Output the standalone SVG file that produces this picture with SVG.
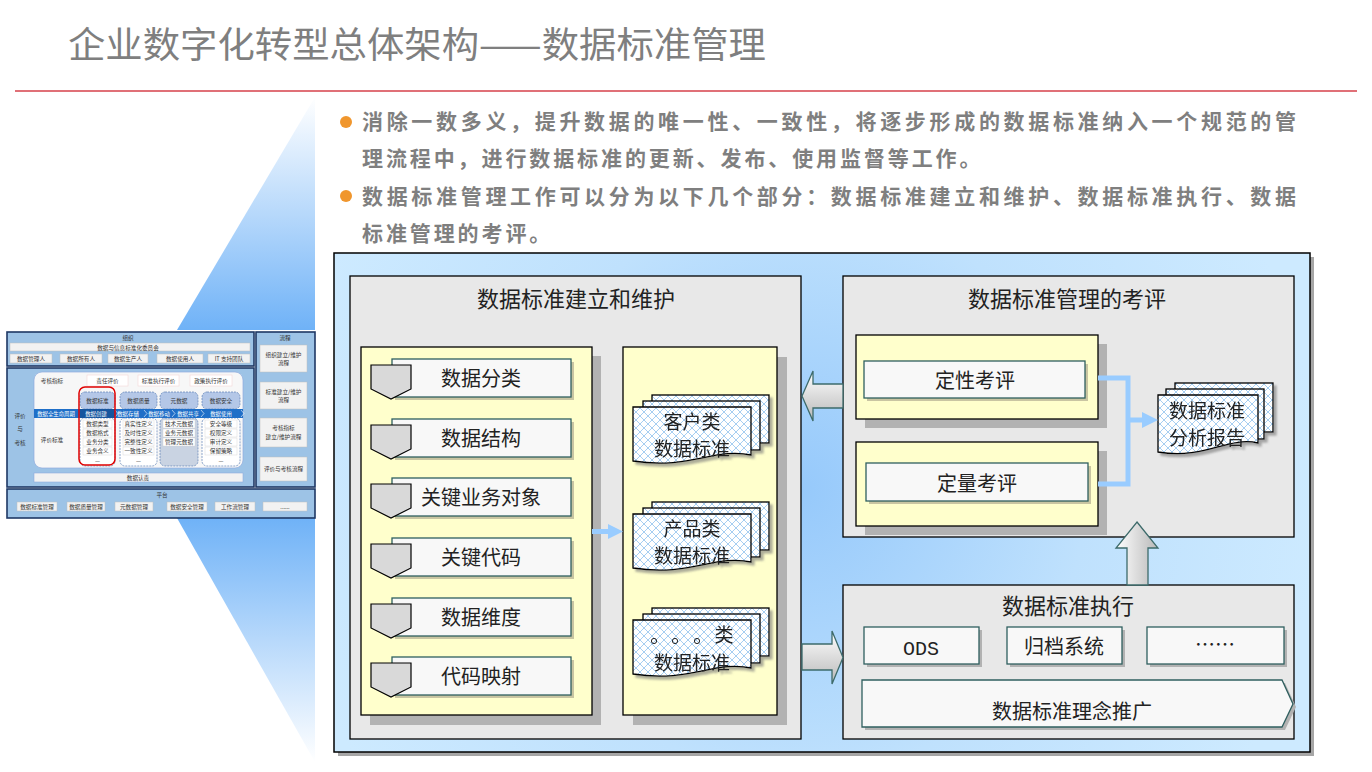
<svg xmlns="http://www.w3.org/2000/svg" width="1372" height="772" viewBox="0 0 1372 772">
<defs>
<style>
.f{font-family:"Noto Sans CJK SC","Liberation Sans",sans-serif}
.ttl{font-size:22px;fill:#222;text-anchor:middle}
.it{font-size:20px;fill:#222;text-anchor:middle}
.dt{font-size:19px;fill:#222;text-anchor:middle}
.bul{font-size:21px;font-weight:bold;fill:#7f7f7f}
.s{font-family:"Noto Sans CJK SC",sans-serif;font-size:5.6px;fill:#333;text-anchor:middle}
.sw{font-family:"Noto Sans CJK SC",sans-serif;font-size:5.4px;fill:#fff;text-anchor:middle}
.gp{fill:#e8e8e8;stroke:#000;stroke-width:1.3}
.yp{fill:#ffffcc;stroke:#000;stroke-width:1.3}
.sh{fill:#b2b2b2}
.ks{fill:#c9c5a2}
.wb{fill:#f8f8f8;stroke:#2f5f5f;stroke-width:1.3}
.pent{fill:#d9d9d9;stroke:#000;stroke-width:1.2}
.doc{fill:url(#lat);stroke:#000;stroke-width:1.3}
.arr3{fill:url(#ag);stroke:#3d6b6b;stroke-width:1.3}
.blk{fill:#9dc3e6;stroke:#1f3864;stroke-width:1.6}
.tb{fill:#f2f2f2;stroke:#bfbfbf;stroke-width:0.5}
.col{fill:#b4c7e7;stroke:#5b7fb5;stroke-width:0.7;stroke-dasharray:2 1}
.lst{fill:#fff;stroke:#5b7fb5;stroke-width:0.7;stroke-dasharray:2 1}
.row{fill:#fff;stroke:#d0d0d0;stroke-width:0.4}
</style>
<linearGradient id="triTop" x1="0" y1="0" x2="0" y2="1">
<stop offset="0" stop-color="#ffffff"/><stop offset="1" stop-color="#6fb2f7"/>
</linearGradient>
<linearGradient id="triBot" x1="0" y1="0" x2="0" y2="1">
<stop offset="0" stop-color="#6fb2f7"/><stop offset="1" stop-color="#ffffff"/>
</linearGradient>
<radialGradient id="bg" cx="800" cy="490" r="520" gradientUnits="userSpaceOnUse">
<stop offset="0" stop-color="#96c9fb"/><stop offset="0.55" stop-color="#bfe1fd"/><stop offset="1" stop-color="#cdeaff"/>
</radialGradient>
<linearGradient id="ag" x1="0" y1="0" x2="0" y2="1">
<stop offset="0" stop-color="#ffffff"/><stop offset="1" stop-color="#b8b8b8"/>
</linearGradient>
<linearGradient id="agv" x1="0" y1="0" x2="1" y2="0">
<stop offset="0" stop-color="#ffffff"/><stop offset="1" stop-color="#b8b8b8"/>
</linearGradient>
<pattern id="lat" width="8" height="8" patternUnits="userSpaceOnUse">
<rect width="8" height="8" fill="#ffffff"/>
<path d="M0,0 L8,8 M8,0 L0,8" stroke="#9cc8ef" stroke-width="0.9"/>
</pattern>
<filter id="ds" x="-10%" y="-10%" width="130%" height="140%">
<feDropShadow dx="3" dy="3" stdDeviation="1.2" flood-color="#777" flood-opacity="0.6"/>
</filter>
</defs>

<rect width="1372" height="772" fill="#ffffff"/>

<g id="title">
<text class="f" x="68" y="58" font-size="36" fill="#7f7f7f" textLength="698" lengthAdjust="spacingAndGlyphs">企业数字化转型总体架构——数据标准管理</text>
<line x1="15" y1="91" x2="1357" y2="91" stroke="#e07077" stroke-width="2"/>
</g>

<g id="fan">
<polygon points="315,97 315,330 177,330" fill="url(#triTop)"/>
<polygon points="177,518 315,518 315,762" fill="url(#triBot)"/>
</g>

<g id="bullets">
<circle cx="346" cy="122" r="6" fill="#f0962d"/>
<circle cx="346" cy="196" r="6" fill="#f0962d"/>
<text class="f bul" x="362" y="129" textLength="934" lengthAdjust="spacing">消除一数多义，提升数据的唯一性、一致性，将逐步形成的数据标准纳入一个规范的管</text>
<text class="f bul" x="362" y="166" letter-spacing="2.9">理流程中，进行数据标准的更新、发布、使用监督等工作。</text>
<text class="f bul" x="362" y="204" textLength="934" lengthAdjust="spacing">数据标准管理工作可以分为以下几个部分：数据标准建立和维护、数据标准执行、数据</text>
<text class="f bul" x="362" y="241" letter-spacing="2.9">标准管理的考评。</text>
</g>

<g id="thumbnail">
<rect x="7" y="332" width="308" height="186" fill="#ffffff"/>
<rect class="blk" x="7" y="332" width="247" height="34"/>
<rect class="blk" x="7" y="368" width="247" height="119"/>
<rect class="blk" x="256" y="332" width="59" height="155"/>
<rect class="blk" x="7" y="489" width="308" height="29"/>
<text class="s" x="128" y="340">组织</text>
<rect class="tb" x="10" y="343" width="240" height="8"/>
<text class="s" x="128" y="349.5">数据与信息标准化委员会</text>
<rect class="tb" x="10" y="354" width="42" height="9"/><text class="s" x="31" y="360.7">数据管理人</text>
<rect class="tb" x="60" y="354" width="42" height="9"/><text class="s" x="81" y="360.7">数据所有人</text>
<rect class="tb" x="108" y="354" width="40" height="9"/><text class="s" x="128" y="360.7">数据生产人</text>
<rect class="tb" x="157" y="354" width="46" height="9"/><text class="s" x="180" y="360.7">数据使用人</text>
<rect class="tb" x="208" y="354" width="42" height="9"/><text class="s" x="229" y="360.7">IT 支持团队</text>
<text class="s" x="20" y="418" font-size="6.4">评价</text>
<text class="s" x="20" y="431" font-size="6.4">与</text>
<text class="s" x="20" y="445" font-size="6.4">考核</text>
<rect x="34" y="372" width="209" height="96" rx="8" fill="#f7f7f7" stroke="#8faadc" stroke-width="0.7"/>
<text class="s" x="52" y="383">考核指标</text>
<rect x="87" y="375" width="41" height="11" fill="#fff" stroke="#f2d0d0" stroke-width="0.5"/><text class="s" x="107.5" y="382.8">责任评价</text>
<rect x="138" y="375" width="41" height="11" fill="#fff" stroke="#f2d0d0" stroke-width="0.5"/><text class="s" x="158.5" y="382.8">标准执行评价</text>
<rect x="190" y="375" width="42" height="11" fill="#fff" stroke="#f2d0d0" stroke-width="0.5"/><text class="s" x="211" y="382.8">政策执行评价</text>
<rect class="col" x="80" y="392" width="35" height="17" rx="5"/><text class="s" x="97.5" y="403">数据标准</text>
<rect class="col" x="120" y="392" width="37" height="17" rx="5"/><text class="s" x="138.5" y="403">数据质量</text>
<rect class="col" x="160" y="392" width="38" height="17" rx="5"/><text class="s" x="179" y="403">元数据</text>
<rect class="col" x="202" y="392" width="38" height="17" rx="5"/><text class="s" x="221" y="403">数据安全</text>
<rect class="lst" x="80" y="418" width="35" height="48" rx="5"/>
<rect class="lst" x="120" y="418" width="37" height="48" rx="5"/>
<rect x="160" y="418" width="38" height="48" rx="5" fill="#c9d3e2" stroke="#5b7fb5" stroke-width="0.7" stroke-dasharray="2 1"/>
<rect class="lst" x="202" y="418" width="38" height="48" rx="5"/>
<g>
<rect class="row" x="83" y="420" width="29" height="8"/><text class="s" x="97.5" y="425.8">数据类型</text>
<rect class="row" x="83" y="429" width="29" height="8"/><text class="s" x="97.5" y="435">数据格式</text>
<rect class="row" x="83" y="438" width="29" height="8"/><text class="s" x="97.5" y="444.3">业务分类</text>
<rect class="row" x="83" y="447" width="29" height="8"/><text class="s" x="97.5" y="453.3">业务含义</text>
<text class="s" x="97.5" y="463">—</text>
<rect class="row" x="123" y="420" width="31" height="8"/><text class="s" x="138.5" y="425.8">真实性定义</text>
<rect class="row" x="123" y="429" width="31" height="8"/><text class="s" x="138.5" y="435">及时性定义</text>
<rect class="row" x="123" y="438" width="31" height="8"/><text class="s" x="138.5" y="444.3">完整性定义</text>
<rect class="row" x="123" y="447" width="31" height="8"/><text class="s" x="138.5" y="453.3">一致性定义</text>
<text class="s" x="138.5" y="463">—</text>
<rect class="row" x="163" y="420" width="32" height="8"/><text class="s" x="179" y="425.8">技术元数据</text>
<rect class="row" x="163" y="429" width="32" height="8"/><text class="s" x="179" y="435">业务元数据</text>
<rect class="row" x="163" y="438" width="32" height="8"/><text class="s" x="179" y="444.3">管理元数据</text>
<rect class="row" x="205" y="420" width="32" height="8"/><text class="s" x="221" y="425.8">安全等级</text>
<rect class="row" x="205" y="429" width="32" height="8"/><text class="s" x="221" y="435">权限定义</text>
<rect class="row" x="205" y="438" width="32" height="8"/><text class="s" x="221" y="444.3">审计定义</text>
<rect class="row" x="205" y="447" width="32" height="8"/><text class="s" x="221" y="453.3">保留策略</text>
<text class="s" x="221" y="463">—</text>
</g>
<rect x="34" y="409" width="209" height="9" fill="#1f6fc8"/>
<rect x="80" y="409" width="35" height="9" fill="#15559e"/>
<text class="sw" x="56" y="415.8">数据全生命周期</text>
<text class="sw" x="96" y="415.8">数据创建</text>
<text class="sw" x="128" y="415.8">数据存储</text>
<text class="sw" x="159" y="415.8">数据移动</text>
<text class="sw" x="188" y="415.8">数据共享</text>
<text class="sw" x="221" y="415.8">数据使用</text>
<path d="M115,410 L118,413.5 L115,417 M144,410 L147,413.5 L144,417 M172,410 L175,413.5 L172,417 M201,410 L204,413.5 L201,417 M241,410 L244,413.5 L241,417" fill="none" stroke="#fff" stroke-width="0.6"/>
<rect x="79" y="387" width="36" height="78" rx="6" fill="none" stroke="#e00000" stroke-width="1.5"/>
<text class="s" x="52" y="442">评价标准</text>
<rect x="34" y="473" width="209" height="9" fill="#f2f2f2" stroke="#8faadc" stroke-width="0.6"/>
<text class="s" x="138" y="479.8">数据认责</text>
<text class="s" x="285" y="340" font-size="6">流程</text>
<rect class="tb" x="260" y="345" width="47" height="27"/><text class="s" x="283.5" y="357">组织建立/维护</text><text class="s" x="283.5" y="365">流程</text>
<rect class="tb" x="260" y="382" width="47" height="27"/><text class="s" x="283.5" y="394">标准建立/维护</text><text class="s" x="283.5" y="402">流程</text>
<rect class="tb" x="260" y="418" width="47" height="29"/><text class="s" x="283.5" y="430">考核指标</text><text class="s" x="283.5" y="439">建立/维护流程</text>
<rect class="tb" x="260" y="457" width="47" height="24"/><text class="s" x="283.5" y="471">评价与考核流程</text>
<text class="s" x="162" y="496.5" font-size="6">平台</text>
<rect class="tb" x="17" y="502" width="40" height="9"/><text class="s" x="37" y="508.7">数据标准管理</text>
<rect class="tb" x="67" y="502" width="38" height="9"/><text class="s" x="86" y="508.7">数据质量管理</text>
<rect class="tb" x="115" y="502" width="38" height="9"/><text class="s" x="134" y="508.7">元数据管理</text>
<rect class="tb" x="167" y="502" width="40" height="9"/><text class="s" x="187" y="508.7">数据安全管理</text>
<rect class="tb" x="215" y="502" width="40" height="9"/><text class="s" x="235" y="508.7">工作流管理</text>
<rect class="tb" x="263" y="502" width="44" height="9"/><text class="s" x="285" y="508.7">......</text>
</g>

<g id="main-frame">
<rect x="338" y="257" width="976" height="499" fill="#a6a6a6"/>
<rect x="334" y="253" width="976" height="499" fill="url(#bg)" stroke="#000" stroke-width="1.5"/>
</g>

<g id="panel-build">
<rect class="gp" x="350" y="276" width="451" height="463"/>
<text class="f ttl" x="576" y="307">数据标准建立和维护</text>
<rect class="sh" x="370" y="356" width="231" height="369"/>
<rect class="yp" x="361" y="347" width="231" height="368"/>
<rect class="sh" x="633" y="357" width="154" height="368"/>
<rect class="yp" x="623" y="347" width="154" height="368"/>
</g>

<g id="build-items">
<g id="item-1"><rect class="ks" x="395" y="362" width="179" height="38"/><rect class="wb" x="392" y="359" width="179" height="38"/><polygon class="pent" points="371,365 411,365 411,389 391,399 371,389"/><text class="f it" x="481" y="386">数据分类</text></g>
<g id="item-2"><rect class="ks" x="395" y="422" width="179" height="38"/><rect class="wb" x="392" y="419" width="179" height="38"/><polygon class="pent" points="371,425 411,425 411,449 391,459 371,449"/><text class="f it" x="481" y="446">数据结构</text></g>
<g id="item-3"><rect class="ks" x="395" y="481" width="179" height="38"/><rect class="wb" x="392" y="478" width="179" height="38"/><polygon class="pent" points="371,484 411,484 411,508 391,518 371,508"/><text class="f it" x="481" y="505">关键业务对象</text></g>
<g id="item-4"><rect class="ks" x="395" y="541" width="179" height="38"/><rect class="wb" x="392" y="538" width="179" height="38"/><polygon class="pent" points="371,544 411,544 411,568 391,578 371,568"/><text class="f it" x="481" y="565">关键代码</text></g>
<g id="item-5"><rect class="ks" x="395" y="601" width="179" height="38"/><rect class="wb" x="392" y="598" width="179" height="38"/><polygon class="pent" points="371,604 411,604 411,628 391,638 371,628"/><text class="f it" x="481" y="625">数据维度</text></g>
<g id="item-6"><rect class="ks" x="395" y="660" width="179" height="38"/><rect class="wb" x="392" y="657" width="179" height="38"/><polygon class="pent" points="371,663 411,663 411,687 391,697 371,687"/><text class="f it" x="481" y="684">代码映射</text></g>
</g>

<g id="doc-customer" filter="url(#ds)">
<rect class="doc" x="652" y="395" width="117" height="48"/>
<rect class="doc" x="643" y="401" width="117" height="49"/>
<path class="doc" d="M633,407 H751 V455 C715,447 690,470 633,461 Z"/>
<text class="f dt" x="692" y="429">客户类</text>
<text class="f dt" x="692" y="456">数据标准</text>
</g>
<g id="doc-product" filter="url(#ds)">
<rect class="doc" x="652" y="502" width="117" height="48"/>
<rect class="doc" x="643" y="508" width="117" height="49"/>
<path class="doc" d="M633,514 H751 V562 C715,554 690,577 633,568 Z"/>
<text class="f dt" x="692" y="536">产品类</text>
<text class="f dt" x="692" y="563">数据标准</text>
</g>
<g id="doc-other" filter="url(#ds)">
<rect class="doc" x="652" y="608" width="117" height="48"/>
<rect class="doc" x="643" y="614" width="117" height="49"/>
<path class="doc" d="M633,620 H751 V668 C715,660 690,683 633,674 Z"/>
<circle cx="654" cy="641" r="2.6" fill="none" stroke="#222" stroke-width="1"/>
<circle cx="675" cy="641" r="2.6" fill="none" stroke="#222" stroke-width="1"/>
<circle cx="697" cy="641" r="2.6" fill="none" stroke="#222" stroke-width="1"/>
<text class="f dt" x="724" y="642">类</text>
<text class="f dt" x="692" y="670">数据标准</text>
</g>

<g id="panel-review">
<rect class="gp" x="843" y="276" width="451" height="261"/>
<text class="f ttl" x="1067" y="307">数据标准管理的考评</text>
<g id="qual"><rect class="sh" x="865" y="344" width="242" height="84"/><rect class="yp" x="856" y="335" width="242" height="84"/><rect class="ks" x="867" y="364" width="221" height="37"/><rect class="wb" x="864" y="361" width="221" height="37"/><text class="f it" x="975" y="388">定性考评</text></g>
<g id="quant"><rect class="sh" x="865" y="451" width="242" height="84"/><rect class="yp" x="856" y="442" width="242" height="84"/><rect class="ks" x="869" y="466" width="222" height="38"/><rect class="wb" x="866" y="463" width="222" height="38"/><text class="f it" x="977" y="491">定量考评</text></g>
<g id="doc-report" filter="url(#ds)">
<rect class="doc" x="1175" y="383" width="98" height="49"/>
<rect class="doc" x="1166" y="389" width="98" height="50"/>
<path class="doc" d="M1158,395 H1258 V443 C1228,436 1205,460 1158,452 Z"/>
<text class="f dt" x="1207" y="418">数据标准</text>
<text class="f dt" x="1207" y="445">分析报告</text>
</g>
</g>

<g id="panel-exec">
<rect class="gp" x="843" y="585" width="451" height="154"/>
<text class="f ttl" x="1068" y="614">数据标准执行</text>
<g id="ods"><rect class="sh" x="867" y="630" width="115" height="37"/><rect class="wb" x="864" y="627" width="115" height="37"/><text x="921" y="655" font-family="Liberation Mono, monospace" font-size="20" fill="#222" text-anchor="middle">ODS</text></g>
<g id="archive"><rect class="sh" x="1010" y="630" width="115" height="37"/><rect class="wb" x="1007" y="627" width="115" height="37"/><text class="f it" x="1064" y="654">归档系统</text></g>
<g id="more"><rect class="sh" x="1150" y="630" width="137" height="37"/><rect class="wb" x="1147" y="627" width="137" height="37"/><text class="f it" x="1215" y="652">……</text></g>
<g id="promote"><polygon points="865,683 1285,683 1296,707 1285,730 865,730" fill="#b2b2b2"/><polygon points="862,680 1282,680 1293,704 1282,727 862,727" fill="#f8f8f8" stroke="#2f5f5f" stroke-width="1.3"/><text class="f it" x="1072" y="719">数据标准理念推广</text></g>
</g>

<g id="connectors">
<polygon points="592,529 608,529 608,524 623,531.5 608,539 608,534 592,534" fill="#99ccff"/>
<path d="M1098,378 H1128 V484 H1098" fill="none" stroke="#99ccff" stroke-width="5"/>
<line x1="1128" y1="420" x2="1143" y2="420" stroke="#99ccff" stroke-width="5"/>
<polygon points="1142,412 1158,420 1142,428" fill="#99ccff"/>
<polygon class="arr3" points="802,396 813,371 813,384 843,384 843,408 813,408 813,421"/>
<polygon class="arr3" points="802,644 832,644 832,631 843,657.5 832,684 832,670 802,670"/>
<polygon points="1137,522 1158,548 1148,548 1148,585 1127,585 1127,548 1116,548" fill="url(#agv)" stroke="#3d6b6b" stroke-width="1.3"/>
</g>
</svg>
